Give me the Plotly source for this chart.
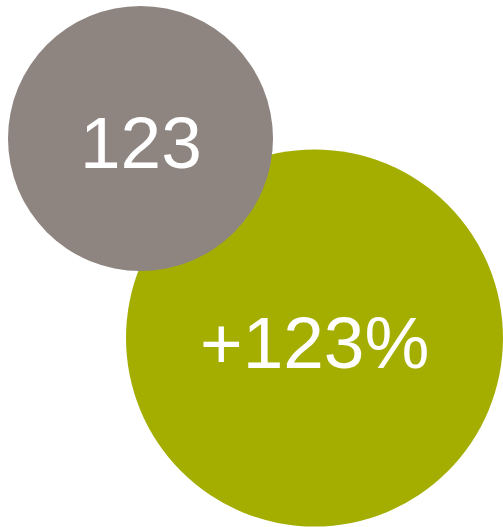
import plotly.graph_objects as go

labels = ["+123%", "123"]
center_x = [314.5, 140.5]
center_y = [338.0, 138.5]
diameters = [377, 265]
colors = ["#A4AE00", "#8E8581"]

fig = go.Figure()
for lab, cx, cy, d, c in zip(labels, center_x, center_y, diameters, colors):
    fig.add_trace(go.Scatter(
        x=[cx], y=[cy], mode="markers",
        marker=dict(size=d, color=c, line=dict(width=0), opacity=1),
        cliponaxis=False, hoverinfo="skip", showlegend=False,
    ))
    fig.add_annotation(
        x=cx, y=cy, text=lab, showarrow=False,
        xanchor="center", yanchor="middle", yshift=-4,
        font=dict(family="Liberation Sans, Arial", size=73, color="white"),
    )

fig.update_layout(
    width=503, height=527,
    margin=dict(l=0, r=0, t=0, b=0),
    paper_bgcolor="white", plot_bgcolor="white",
    xaxis=dict(range=[0, 503], visible=False, fixedrange=True),
    yaxis=dict(range=[527, 0], visible=False, fixedrange=True),
)
fig.write_html("out.html", config={"displayModeBar": False},
               post_script="document.body.style.margin='0';document.body.style.overflow='hidden';")
